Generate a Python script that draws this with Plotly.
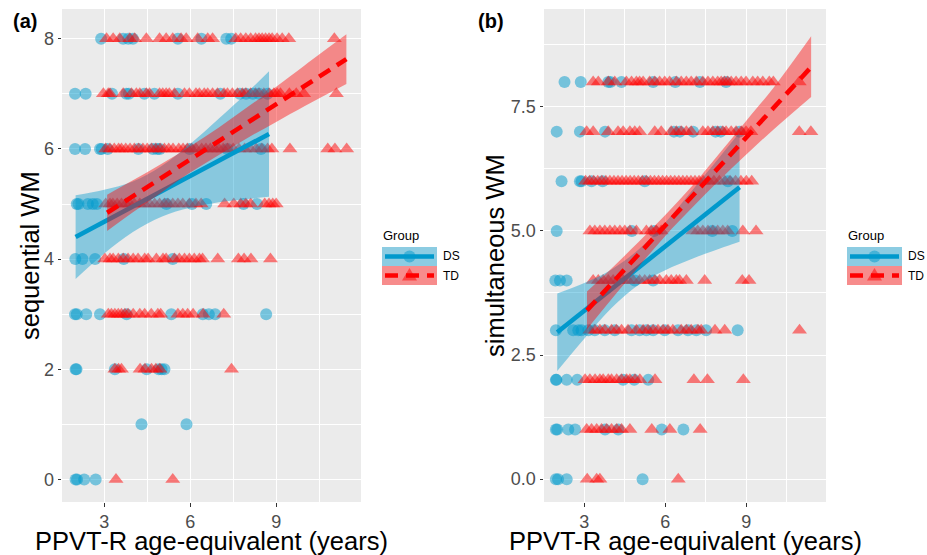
import plotly.graph_objects as go

W, H = 927, 555

# ---------------- DATA ----------------
# Panel (a): sequential WM vs PPVT-R age-equivalent; rows keyed by score
seq_ds_rows = {
    8: [2.89, 3.66, 3.84, 4.0, 5.57, 6.39, 7.26, 7.43],
    7: [1.98, 2.35, 3.27, 3.77, 3.86, 4.4, 4.75, 5.57, 7.05, 7.73, 7.95, 8.18, 8.4, 8.7],
    6: [1.98, 2.33, 2.85, 2.91, 3.12, 4.19, 4.7, 4.85, 4.94, 5.98, 7.3, 8.47],
    5: [2.04, 2.1, 2.43, 2.6, 2.74, 5.17, 6.06, 6.56, 7.86, 8.33],
    4: [1.99, 2.24, 2.68, 3.68, 5.39],
    3: [1.98, 2.04, 2.37, 2.85, 3.78, 5.34, 6.44, 6.65, 6.87, 8.65],
    2: [2.0, 2.03, 3.37, 4.48, 4.9, 5.0, 5.1],
    1: [4.3, 5.87],
    0: [2.0, 2.05, 2.3, 2.7],
}
seq_td_rows = {
    8: [3.08, 3.31, 3.54, 3.89, 4.06, 4.47, 4.93, 5.16, 5.39, 5.68, 5.86, 6.26, 6.61, 6.78,
        7.59, 7.76, 7.94, 8.11, 8.28, 8.4, 8.51, 8.63, 8.75, 8.86, 9.03, 9.21, 9.44, 11.03],
    7: [2.97, 3.14, 3.2, 3.66, 3.95, 4.12, 4.24, 4.47, 4.58, 4.93, 5.04, 5.16, 5.27, 5.45,
        5.8, 5.97, 6.2, 6.32, 6.49, 6.61, 6.78, 6.95, 7.18, 7.3, 7.47, 7.65, 7.82, 7.94,
        8.11, 8.28, 8.4, 8.57, 8.75, 8.92, 9.03, 9.15, 9.46, 9.7, 9.96, 11.1],
    6: [3.05, 3.2, 3.35, 3.5, 3.6, 3.75, 3.9, 4.05, 4.2, 4.35, 4.5, 4.65, 4.8, 4.95, 5.1,
        5.25, 5.4, 5.6, 5.75, 5.9, 6.05, 6.2, 6.4, 6.55, 6.7, 6.85, 7.0, 7.15, 7.3, 7.5,
        7.7, 7.9, 8.1, 8.3, 8.5, 8.7, 8.85, 9.48, 10.8, 11.05, 11.46],
    5: [3.05, 3.2, 3.3, 3.45, 3.6, 3.75, 3.89, 4.05, 4.24, 4.41, 4.58, 4.76, 4.93, 5.1,
        5.22, 5.39, 5.57, 5.74, 5.97, 6.2, 6.38, 7.2, 7.52, 7.76, 7.94, 8.11, 8.6, 8.75,
        8.88, 9.0],
    4: [3.02, 3.2, 3.31, 3.49, 3.66, 3.83, 4.01, 4.18, 4.41, 4.53, 4.82, 5.05, 5.16,
        5.45, 5.62, 5.8, 5.97, 6.14, 6.32, 6.43, 6.96, 7.68, 7.88, 8.12, 8.8],
    3: [3.14, 3.25, 3.37, 3.49, 3.6, 3.72, 3.83, 4.01, 4.24, 4.41, 4.64, 4.87, 4.97,
        5.57, 5.74, 5.91, 6.1, 6.45, 7.17],
    2: [3.37, 3.5, 3.6, 4.25, 4.42, 4.65, 4.8, 4.94, 7.44],
    1: [],
    0: [3.41, 5.39],
}
# fitted lines with 95% bands
seq_ds_fit_x = [2.0, 3.0, 4.0, 5.0, 6.0, 7.0, 8.0, 8.75]
seq_ds_fit = [4.40, 4.68, 4.95, 5.23, 5.51, 5.79, 6.06, 6.27]
seq_ds_lo = [3.64, 4.10, 4.49, 4.77, 4.93, 5.03, 5.09, 5.13]
seq_ds_hi = [5.16, 5.26, 5.41, 5.69, 6.09, 6.55, 7.03, 7.41]
seq_td_fit_x = [3.1, 4.0, 5.0, 6.0, 7.0, 8.0, 9.0, 10.0, 11.45]
seq_td_fit = [4.84, 5.14, 5.47, 5.81, 6.14, 6.48, 6.81, 7.15, 7.63]
seq_td_lo = [4.51, 4.85, 5.21, 5.57, 5.89, 6.20, 6.49, 6.78, 7.18]
seq_td_hi = [5.17, 5.43, 5.73, 6.05, 6.39, 6.76, 7.13, 7.52, 8.08]

# Panel (b): simultaneous WM
sim_ds_rows = {
    8: [2.27, 2.87, 3.89, 3.97, 4.38, 5.55, 6.37, 7.28, 8.25],
    7: [1.98, 2.84, 3.77, 6.32, 6.54, 7.03, 7.86, 8.05, 8.74],
    6: [2.16, 2.84, 2.9, 3.27, 3.68, 5.24, 8.32],
    5: [1.98, 4.76, 5.58, 7.74, 8.48],
    4: [1.93, 2.1, 2.35, 4.87, 5.55],
    3: [1.95, 2.59, 2.78, 2.9, 3.15, 3.39, 3.76, 4.13, 4.75, 5.05, 5.3, 5.55, 5.98, 6.47,
        6.84, 7.15, 7.51, 8.68],
    2: [1.95, 1.97, 2.35, 2.74, 4.44, 4.85, 5.37],
    1: [1.95, 2.0, 2.41, 2.66, 3.77, 4.26, 5.87, 6.67],
    0: [1.95, 2.03, 2.35, 5.16],
}
sim_td_rows = {
    8: [3.33, 3.52, 3.89, 4.13, 4.56, 4.75, 4.93, 5.05, 5.18, 5.42, 5.61, 5.79, 5.98,
        6.16, 6.41, 6.59, 6.78, 6.96, 7.15, 7.39, 7.58, 7.76, 7.94, 8.07, 8.19, 8.31,
        8.44, 8.62, 8.81, 8.99, 9.24, 9.42, 9.61, 9.85, 10.0, 10.96],
    7: [3.09, 3.33, 3.89, 4.25, 4.44, 4.69, 4.87, 5.05, 5.61, 5.85, 6.22, 6.41, 6.59,
        6.78, 6.96, 7.39, 7.58, 7.76, 7.94, 8.13, 8.25, 8.44, 8.62, 8.81, 8.99, 9.17,
        10.96, 11.39],
    6: [3.05, 3.2, 3.35, 3.5, 3.65, 3.8, 3.95, 4.1, 4.25, 4.4, 4.55, 4.7, 4.85, 5.0,
        5.15, 5.3, 5.45, 5.6, 5.75, 5.9, 6.05, 6.2, 6.35, 6.5, 6.65, 6.8, 6.95, 7.1,
        7.25, 7.4, 7.6, 7.8, 8.0, 8.2, 8.4, 8.6, 8.8, 9.0, 9.2],
    5: [3.21, 3.39, 3.58, 3.76, 3.95, 4.13, 4.32, 4.5, 4.69, 4.93, 5.3, 5.48, 5.67, 5.85,
        7.02, 7.2, 7.39, 7.58, 7.76, 7.94, 8.13, 8.31, 8.87, 9.36],
    4: [3.33, 3.52, 3.7, 3.89, 4.07, 4.25, 4.44, 4.62, 4.81, 5.05, 5.24, 5.42, 5.61,
        5.79, 6.04, 6.22, 6.41, 6.53, 6.78, 7.46, 8.85, 9.1],
    3: [3.21, 3.39, 3.58, 3.76, 4.01, 4.19, 4.38, 4.62, 4.93, 5.18, 5.36, 5.55, 5.73,
        5.92, 6.1, 6.28, 6.59, 6.78, 6.96, 7.21, 7.33, 7.84, 8.2, 10.97],
    2: [3.03, 3.21, 3.4, 3.58, 3.7, 3.89, 4.01, 4.2, 4.38, 4.57, 4.69, 4.88, 5.06, 5.62,
        7.06, 7.56, 8.89],
    1: [3.09, 3.27, 3.46, 3.64, 3.83, 4.01, 4.2, 4.38, 4.69, 5.5, 6.17, 7.29],
    0: [3.11, 3.46, 3.58, 6.48],
}
sim_ds_fit_x = [2.0, 3.0, 4.0, 5.0, 6.0, 7.0, 8.0, 8.75]
sim_ds_fit = [2.96, 3.39, 3.83, 4.26, 4.69, 5.13, 5.56, 5.88]
sim_ds_lo = [2.18, 2.83, 3.44, 3.91, 4.21, 4.44, 4.64, 4.78]
sim_ds_hi = [3.74, 3.95, 4.22, 4.62, 5.17, 5.82, 6.48, 6.98]
sim_td_fit_x = [3.1, 4.0, 5.0, 6.0, 7.0, 8.0, 9.0, 10.0, 11.4]
sim_td_fit = [3.40, 3.93, 4.52, 5.11, 5.69, 6.29, 6.88, 7.46, 8.30]
sim_td_lo = [3.02, 3.62, 4.27, 4.90, 5.47, 6.02, 6.54, 7.04, 7.70]
sim_td_hi = [3.78, 4.24, 4.77, 5.32, 5.91, 6.56, 7.22, 7.88, 8.92]

x_ticks = [3, 6, 9]
x_minor = [1.5, 4.5, 7.5, 10.5]
seq_y_ticks = [0, 2, 4, 6, 8]
seq_y_minor = [1, 3, 5, 7]
sim_y_ticks = [0.0, 2.5, 5.0, 7.5]
sim_y_ticklabels = ["0.0", "2.5", "5.0", "7.5"]
sim_y_minor = [1.25, 3.75, 6.25, 8.75]
group_names = ["DS", "TD"]

# ---------------- STYLE ----------------
BLUE = "#0099CC"
RED = "#FF0000"
BLUE_PT = "rgba(0,153,204,0.5)"
RED_PT = "rgba(255,0,0,0.5)"
BLUE_FILL = "rgba(0,153,204,0.42)"
RED_FILL = "rgba(255,0,0,0.42)"
FONT = "Liberation Sans, Arial, sans-serif"
DASH = "13px,8px"


def flat(rows):
    xs, ys = [], []
    for yv, xl in rows.items():
        for xv in xl:
            xs.append(xv)
            ys.append(yv)
    return xs, ys


fig = go.Figure()


def add_panel(xa, ya, ds_rows, td_rows, ds_fit, td_fit):
    dx, dy = flat(ds_rows)
    tx, ty = flat(td_rows)
    fig.add_trace(go.Scatter(x=dx, y=dy, mode="markers", xaxis=xa, yaxis=ya,
                             marker=dict(symbol="circle", size=12, color=BLUE_PT, line=dict(width=0)),
                             showlegend=False, hoverinfo="skip"))
    fig.add_trace(go.Scatter(x=tx, y=ty, mode="markers", xaxis=xa, yaxis=ya,
                             marker=dict(symbol="triangle-up", size=13, color=RED_PT, line=dict(width=0)),
                             showlegend=False, hoverinfo="skip"))
    for (fx, fy, lo, hi), col, fill, dash in ((ds_fit, BLUE, BLUE_FILL, "solid"),
                                               (td_fit, RED, RED_FILL, DASH)):
        fig.add_trace(go.Scatter(x=fx, y=lo, mode="lines", xaxis=xa, yaxis=ya,
                                 line=dict(width=0, shape="spline", color=fill),
                                 showlegend=False, hoverinfo="skip"))
        fig.add_trace(go.Scatter(x=fx, y=hi, mode="lines", xaxis=xa, yaxis=ya, fill="tonexty",
                                 fillcolor=fill, line=dict(width=0, shape="spline", color=fill),
                                 showlegend=False, hoverinfo="skip"))
        fig.add_trace(go.Scatter(x=[fx[0], fx[-1]], y=[fy[0], fy[-1]], mode="lines",
                                 xaxis=xa, yaxis=ya, line=dict(width=4.6, color=col, dash=dash),
                                 showlegend=False, hoverinfo="skip"))


add_panel("x", "y", seq_ds_rows, seq_td_rows,
          (seq_ds_fit_x, seq_ds_fit, seq_ds_lo, seq_ds_hi),
          (seq_td_fit_x, seq_td_fit, seq_td_lo, seq_td_hi))
add_panel("x2", "y2", sim_ds_rows, sim_td_rows,
          (sim_ds_fit_x, sim_ds_fit, sim_ds_lo, sim_ds_hi),
          (sim_td_fit_x, sim_td_fit, sim_td_lo, sim_td_hi))


def px(v):
    return v / W


def py(v):
    return 1 - v / H


ydom = [py(502), py(9)]
axis_common = dict(showgrid=True, gridcolor="white", gridwidth=1.1, zeroline=False,
                   showline=False, ticks="outside", ticklen=3.5, tickwidth=1.1,
                   tickcolor="#333333", tickfont=dict(family=FONT, size=18, color="#4D4D4D"),
                   fixedrange=True)
fig.update_layout(
    width=W, height=H, margin=dict(l=0, r=0, t=0, b=0),
    paper_bgcolor="white", plot_bgcolor="#EBEBEB", showlegend=False,
    font=dict(family=FONT),
    xaxis=dict(domain=[px(62), px(361)], range=[1.525, 11.96], tickvals=x_ticks,
               ticktext=[str(v) for v in x_ticks], anchor="y",
               minor=dict(tickvals=x_minor, showgrid=True, gridcolor="white", gridwidth=0.55, ticklen=0),
               **axis_common),
    yaxis=dict(domain=ydom, range=[-0.41, 8.54], tickvals=seq_y_ticks,
               ticktext=[str(v) for v in seq_y_ticks], anchor="x",
               minor=dict(tickvals=seq_y_minor, showgrid=True, gridcolor="white", gridwidth=0.55, ticklen=0),
               **axis_common),
    xaxis2=dict(domain=[px(544), px(826)], range=[1.51, 11.95], tickvals=x_ticks,
                ticktext=[str(v) for v in x_ticks], anchor="y2",
                minor=dict(tickvals=x_minor, showgrid=True, gridcolor="white", gridwidth=0.55, ticklen=0),
                **axis_common),
    yaxis2=dict(domain=ydom, range=[-0.46, 9.47], tickvals=sim_y_ticks,
                ticktext=sim_y_ticklabels, anchor="x2",
                minor=dict(tickvals=sim_y_minor, showgrid=True, gridcolor="white", gridwidth=0.55, ticklen=0),
                **axis_common),
)

ann = []
title_font = dict(family=FONT, size=25.5, color="black")
for cx in (211, 685.5):
    ann.append(dict(text="PPVT-R age-equivalent (years)", x=px(cx), y=py(540.5), xref="paper",
                    yref="paper", showarrow=False, xanchor="center", yanchor="middle", font=title_font))
ann.append(dict(text="sequential WM", x=px(30), y=py(256), xref="paper", yref="paper",
                showarrow=False, textangle=-90, xanchor="center", yanchor="middle", font=title_font))
ann.append(dict(text="simultaneous WM", x=px(495), y=py(256), xref="paper", yref="paper",
                showarrow=False, textangle=-90, xanchor="center", yanchor="middle", font=title_font))
ann.append(dict(text="<b>(a)</b>", x=px(11), y=py(21), xref="paper", yref="paper",
                showarrow=False, xanchor="left", yanchor="middle",
                font=dict(family=FONT, size=20, color="black")))
ann.append(dict(text="<b>(b)</b>", x=px(476), y=py(21), xref="paper", yref="paper",
                showarrow=False, xanchor="left", yanchor="middle",
                font=dict(family=FONT, size=20, color="black")))

shapes = []
for lx in (382, 847):
    ann.append(dict(text="Group", x=px(lx - 1), y=py(235), xref="paper", yref="paper",
                    showarrow=False, xanchor="left", yanchor="middle",
                    font=dict(family=FONT, size=13, color="black")))
    for i, g in enumerate(group_names):
        top = 247 + i * 19
        cy = top + 9.5
        fill = BLUE_FILL if i == 0 else RED_FILL
        col = BLUE if i == 0 else RED
        shapes.append(dict(type="rect", xref="paper", yref="paper", x0=px(lx), x1=px(lx + 55),
                           y0=py(top + 19), y1=py(top), fillcolor="#F2F2F2", line=dict(width=0), layer="above"))
        shapes.append(dict(type="rect", xref="paper", yref="paper", x0=px(lx), x1=px(lx + 55),
                           y0=py(top + 19), y1=py(top), fillcolor=fill, line=dict(width=0), layer="above"))
        shapes.append(dict(type="line", xref="paper", yref="paper", x0=px(lx + 3), x1=px(lx + 52),
                           y0=py(cy), y1=py(cy), line=dict(color=col, width=4.6,
                                                           dash="solid" if i == 0 else DASH),
                           layer="above"))
        mx = lx + 27.5
        if i == 0:
            shapes.append(dict(type="circle", xref="paper", yref="paper", x0=px(mx - 6), x1=px(mx + 6),
                               y0=py(cy + 6), y1=py(cy - 6), fillcolor=BLUE_PT, line=dict(width=0),
                               layer="above"))
        else:
            path = "M {} {} L {} {} L {} {} Z".format(px(mx - 7.5), py(cy + 5), px(mx + 7.5), py(cy + 5),
                                                      px(mx), py(cy - 7.5))
            shapes.append(dict(type="path", xref="paper", yref="paper", path=path, fillcolor=RED_PT,
                               line=dict(width=0), layer="above"))
        ann.append(dict(text=g, x=px(lx + 59), y=py(cy), xref="paper", yref="paper",
                        showarrow=False, xanchor="left", yanchor="middle",
                        font=dict(family=FONT, size=12, color="black")))

fig.update_layout(annotations=ann, shapes=shapes)
fig.write_html("out.html")
